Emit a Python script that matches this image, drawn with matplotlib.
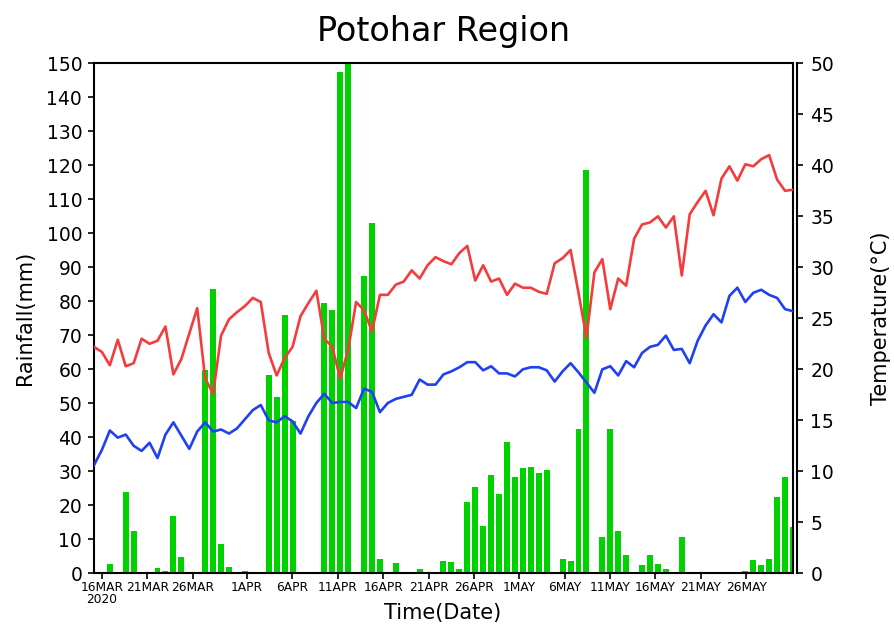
import numpy as np
import matplotlib
matplotlib.use('Agg')
import matplotlib.pyplot as plt

plt.rcParams.update({'font.family': 'DejaVu Sans'})

# --- DATA ---
rain = [0, 0, 2.7, 0.3, 24.0, 12.4, 0.3, 0, 1.7, 0.7, 16.8, 4.8, 0, 0, 59.8, 83.6, 8.6, 2.0,
        0, 0.8, 0, 0, 58.3, 51.8, 76.1, 44.9, 0, 0, 0, 79.4, 77.5, 147.5, 150, 0, 87.3, 103.1,
        4.1, 0, 2.9, 0, 0, 1.3, 0, 0, 3.5, 3.3, 1.3, 21.0, 25.4, 13.8, 29.0, 23.2, 38.7, 28.4,
        31.0, 31.2, 29.6, 30.4, 0.3, 4.1, 3.5, 42.4, 118.6, 0, 10.6, 42.4, 12.5, 5.3, 0, 2.3, 5.3, 2.7,
        1.3, 0, 10.8, 0, 0, 0, 0.3, 0.3, 0, 0.5, 0.8, 3.9, 2.5, 4.2, 22.5, 28.2, 13.5]

tmax = [22.2, 21.7, 20.4, 22.9, 20.3, 20.6, 23.0, 22.5, 22.8, 24.2, 19.5, 21.0, 23.5, 26.0, 19.1, 17.6, 23.3, 24.9,
        25.6, 26.2, 27.0, 26.6, 21.6, 19.4, 21.1, 22.2, 25.2, 26.5, 27.7, 23.0, 22.2, 19.1, 21.9, 26.6, 25.8, 23.7,
        27.3, 27.3, 28.3, 28.6, 29.7, 28.9, 30.2, 31.0, 30.6, 30.3, 31.4, 32.1, 28.7, 30.2, 28.6, 28.9, 27.3, 28.4,
        28.0, 28.0, 27.6, 27.4, 30.4, 30.9, 31.7, 27.5, 23.1, 29.5, 30.8, 25.9, 28.9, 28.2, 32.8, 34.2, 34.4, 35.0,
        33.9, 35.0, 29.2, 35.2, 36.4, 37.5, 35.1, 38.7, 39.9, 38.5, 40.1, 39.9, 40.6, 41.0, 38.6, 37.5, 37.6]

tmin = [10.6, 12.1, 14.0, 13.3, 13.6, 12.5, 12.0, 12.8, 11.3, 13.6, 14.8, 13.5, 12.2, 13.9, 14.8, 13.9, 14.1, 13.7,
        14.2, 15.1, 16.0, 16.5, 15.0, 14.8, 15.4, 14.9, 13.7, 15.4, 16.7, 17.6, 16.7, 16.8, 16.8, 16.2, 18.1, 17.8,
        15.8, 16.7, 17.1, 17.3, 17.5, 19.0, 18.5, 18.5, 19.5, 19.8, 20.2, 20.7, 20.7, 19.9, 20.3, 19.6, 19.6, 19.3,
        20.0, 20.2, 20.2, 19.9, 18.8, 19.8, 20.6, 19.7, 18.7, 17.7, 20.0, 20.3, 19.4, 20.8, 20.2, 21.6, 22.2, 22.4,
        23.3, 21.9, 22.0, 20.6, 22.8, 24.3, 25.4, 24.6, 27.2, 28.0, 26.6, 27.5, 27.8, 27.3, 27.0, 25.9, 25.7]

tick_labels = ['16MAR\n2020', '21MAR', '26MAR', '1APR', '6APR', '11APR', '16APR', '21APR',
               '26APR', '1MAY', '6MAY', '11MAY', '16MAY', '21MAY', '26MAY']
tick_days = [0, 5, 10, 16, 21, 26, 31, 36, 41, 46, 51, 56, 61, 66, 71]

# --- LAYOUT ---
x = np.arange(len(rain))
# time axis of the original: 16MAR sits on sample 1, 26MAY on sample ~82.1
pts_per_day = 81.1 / 71
tick_pos = [1 + d * pts_per_day for d in tick_days]

fig = plt.figure(figsize=(8.94, 6.25), dpi=100)
ax = fig.add_axes([0.1051, 0.0827, 0.7819, 0.8160])

ax.bar(x, rain, width=0.75, color='#00d200', zorder=2)
ax.set_xlim(0, len(rain) - 1)
ax.set_ylim(0, 150)
ax.set_yticks(np.arange(0, 151, 10))
ax.set_xticks(tick_pos)
ax.set_xticklabels(tick_labels, fontsize=8.8, linespacing=0.95)
ax.tick_params(axis='y', direction='out', length=4.5, width=1.2, labelsize=13.5, pad=4)
ax.tick_params(axis='x', direction='out', length=4, width=1.2, pad=1.5)
for s in ax.spines.values():
    s.set_linewidth(1.5)

ax2 = ax.twinx()
ax2.plot(x, tmax, color='#f43c3c', lw=1.9, zorder=3)
ax2.plot(x, tmin, color='#2040f4', lw=1.9, zorder=3)
ax2.set_ylim(0, 50)
ax2.set_yticks(np.arange(0, 51, 5))
for k in ['left', 'top', 'bottom']:
    ax2.spines[k].set_visible(False)
ax2.spines['right'].set_position(('outward', 3))
ax2.spines['right'].set_linewidth(1.5)
ax2.tick_params(axis='y', direction='out', length=4.5, width=1.2, labelsize=13.5, pad=5)

# --- TEXTS ---
fig.text(0.496, 0.949, 'Potohar Region', fontsize=24, ha='center', va='center')
fig.text(0.028, 0.491, 'Rainfall(mm)', fontsize=15, rotation=90, ha='center', va='center')
fig.text(0.9855, 0.491, 'Temperature(\u00b0C)', fontsize=15, rotation=90, ha='center', va='center')
fig.text(0.4955, 0.019, 'Time(Date)', fontsize=15, ha='center', va='center')

fig.savefig('out.png', dpi=100)
